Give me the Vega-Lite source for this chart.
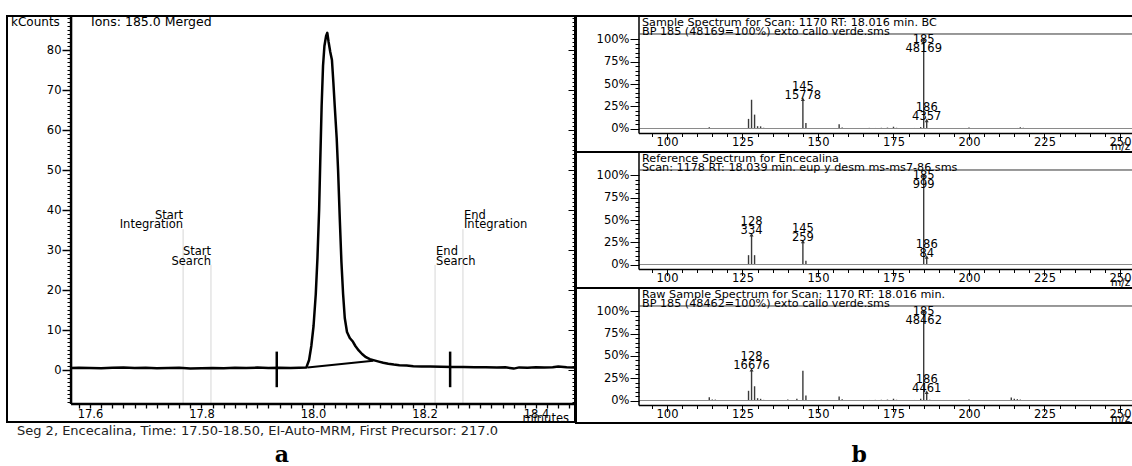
{
"$schema": "https://vega.github.io/schema/vega-lite/v6.json",
"background": "white",
"padding": {"left": 6, "top": 13, "right": 0, "bottom": 0},
"bounds": "flush",
"spacing": 1,
"config": {"font": "DejaVu Sans", "view": {"stroke": "black", "strokeWidth": 2}, "axis": {"labelFont": "DejaVu Sans", "labelFontSize": 11, "labelColor": "black", "tickColor": "black", "grid": false}},
"datasets": {
"chrom": [{"t":17.566,"v":0.5},{"t":17.58,"v":0.55},{"t":17.6,"v":0.5},{"t":17.62,"v":0.45},{"t":17.64,"v":0.55},{"t":17.66,"v":0.6},{"t":17.68,"v":0.5},{"t":17.7,"v":0.55},{"t":17.72,"v":0.45},{"t":17.74,"v":0.5},{"t":17.76,"v":0.55},{"t":17.78,"v":0.4},{"t":17.8,"v":0.45},{"t":17.82,"v":0.5},{"t":17.84,"v":0.45},{"t":17.86,"v":0.55},{"t":17.88,"v":0.5},{"t":17.9,"v":0.6},{"t":17.92,"v":0.5},{"t":17.94,"v":0.55},{"t":17.96,"v":0.5},{"t":17.975,"v":0.55},{"t":17.988,"v":0.6},{"t":17.993,"v":2.5},{"t":17.997,"v":6},{"t":18.001,"v":11},{"t":18.005,"v":19},{"t":18.008,"v":28},{"t":18.011,"v":40},{"t":18.013,"v":52},{"t":18.0155,"v":66},{"t":18.018,"v":76},{"t":18.0205,"v":81},{"t":18.0235,"v":83.5},{"t":18.0257,"v":84.3},{"t":18.028,"v":82},{"t":18.031,"v":79.5},{"t":18.034,"v":77.5},{"t":18.0365,"v":72},{"t":18.039,"v":66},{"t":18.0425,"v":58},{"t":18.045,"v":50},{"t":18.048,"v":38},{"t":18.051,"v":27},{"t":18.054,"v":19},{"t":18.057,"v":13},{"t":18.061,"v":9.5},{"t":18.066,"v":8},{"t":18.071,"v":7.2},{"t":18.076,"v":6},{"t":18.082,"v":4.9},{"t":18.088,"v":4},{"t":18.095,"v":3.2},{"t":18.102,"v":2.7},{"t":18.11,"v":2.4},{"t":18.118,"v":2.1},{"t":18.126,"v":1.8},{"t":18.135,"v":1.55},{"t":18.145,"v":1.35},{"t":18.155,"v":1.2},{"t":18.168,"v":1.1},{"t":18.18,"v":0.95},{"t":18.195,"v":0.9},{"t":18.21,"v":0.85},{"t":18.23,"v":0.8},{"t":18.25,"v":0.75},{"t":18.27,"v":0.75},{"t":18.29,"v":0.7},{"t":18.31,"v":0.7},{"t":18.33,"v":0.65},{"t":18.345,"v":0.7},{"t":18.36,"v":0.35},{"t":18.37,"v":0.65},{"t":18.385,"v":0.55},{"t":18.4,"v":0.7},{"t":18.415,"v":0.6},{"t":18.43,"v":0.7},{"t":18.44,"v":0.9},{"t":18.455,"v":0.7},{"t":18.47,"v":0.6}],
"events": [{"event":"Start Integration","t":17.767},{"event":"Start Search","t":17.817},{"event":"End Search","t":18.219},{"event":"End Integration","t":18.269}],
"p1": [{"mz":95,"pct":0.3},{"mz":97,"pct":0.4},{"mz":100,"pct":0.3},{"mz":102,"pct":0.5},{"mz":104,"pct":0.4},{"mz":106,"pct":0.3},{"mz":108,"pct":0.4},{"mz":110,"pct":0.3},{"mz":112,"pct":0.5},{"mz":114,"pct":1.3},{"mz":115,"pct":0.7},{"mz":117,"pct":0.4},{"mz":119,"pct":0.5},{"mz":121,"pct":0.4},{"mz":123,"pct":0.3},{"mz":125,"pct":0.4},{"mz":127,"pct":10.8},{"mz":128,"pct":32.3},{"mz":129,"pct":15.6},{"mz":130,"pct":2.6},{"mz":131,"pct":2.4},{"mz":132,"pct":0.8},{"mz":133,"pct":0.5},{"mz":135,"pct":0.5},{"mz":137,"pct":0.4},{"mz":139,"pct":0.6},{"mz":141,"pct":0.5},{"mz":143,"pct":0.7},{"mz":145,"pct":32.8},{"mz":146,"pct":6.3},{"mz":147,"pct":0.7},{"mz":149,"pct":0.5},{"mz":151,"pct":0.4},{"mz":153,"pct":0.5},{"mz":155,"pct":0.6},{"mz":157,"pct":4.8},{"mz":158,"pct":1.1},{"mz":159,"pct":0.5},{"mz":161,"pct":0.4},{"mz":163,"pct":0.6},{"mz":165,"pct":0.5},{"mz":167,"pct":0.7},{"mz":169,"pct":0.6},{"mz":171,"pct":0.8},{"mz":173,"pct":1.0},{"mz":175,"pct":2.0},{"mz":176,"pct":0.8},{"mz":178,"pct":0.5},{"mz":180,"pct":0.4},{"mz":182,"pct":0.6},{"mz":184,"pct":1.6},{"mz":185,"pct":100},{"mz":186,"pct":9.0},{"mz":187,"pct":0.7},{"mz":189,"pct":0.4},{"mz":191,"pct":0.3},{"mz":193,"pct":0.4},{"mz":195,"pct":0.3},{"mz":197,"pct":0.4},{"mz":199,"pct":0.5},{"mz":200,"pct":1.1},{"mz":201,"pct":0.6},{"mz":203,"pct":0.4},{"mz":205,"pct":0.3},{"mz":207,"pct":0.4},{"mz":209,"pct":0.3},{"mz":211,"pct":0.4},{"mz":213,"pct":0.5},{"mz":215,"pct":0.7},{"mz":216,"pct":0.6},{"mz":217,"pct":1.4},{"mz":218,"pct":0.8},{"mz":219,"pct":0.5},{"mz":221,"pct":0.4},{"mz":224,"pct":0.3},{"mz":227,"pct":0.4},{"mz":230,"pct":0.3},{"mz":233,"pct":0.3},{"mz":236,"pct":0.4},{"mz":239,"pct":0.3},{"mz":242,"pct":0.3},{"mz":245,"pct":0.4},{"mz":248,"pct":0.3},{"mz":251,"pct":0.3}],
"l1": [{"mz":145,"pct":32.8,"count":15778},{"mz":185,"pct":100,"count":48169},{"mz":186,"pct":9.0,"count":4357}],
"p2": [{"mz":127,"pct":10.5},{"mz":128,"pct":33.4},{"mz":129,"pct":10.5},{"mz":145,"pct":25.9},{"mz":146,"pct":4.2},{"mz":185,"pct":100},{"mz":186,"pct":8.4}],
"l2": [{"mz":128,"pct":33.4,"count":334},{"mz":145,"pct":25.9,"count":259},{"mz":185,"pct":100,"count":999},{"mz":186,"pct":8.4,"count":84}],
"p3": [{"mz":95,"pct":0.4},{"mz":98,"pct":0.3},{"mz":101,"pct":0.4},{"mz":104,"pct":0.5},{"mz":107,"pct":0.3},{"mz":110,"pct":0.4},{"mz":112,"pct":0.5},{"mz":114,"pct":3.7},{"mz":115,"pct":1.0},{"mz":116,"pct":1.0},{"mz":118,"pct":0.5},{"mz":120,"pct":0.4},{"mz":122,"pct":0.3},{"mz":124,"pct":0.4},{"mz":127,"pct":10.9},{"mz":128,"pct":34.4},{"mz":129,"pct":16.0},{"mz":130,"pct":2.6},{"mz":131,"pct":1.9},{"mz":132,"pct":0.7},{"mz":134,"pct":0.5},{"mz":136,"pct":0.4},{"mz":138,"pct":0.5},{"mz":140,"pct":1.0},{"mz":141,"pct":0.6},{"mz":143,"pct":2.0},{"mz":145,"pct":33.3},{"mz":146,"pct":5.6},{"mz":147,"pct":0.7},{"mz":149,"pct":0.5},{"mz":151,"pct":0.4},{"mz":153,"pct":0.5},{"mz":155,"pct":0.6},{"mz":157,"pct":4.5},{"mz":158,"pct":1.5},{"mz":159,"pct":0.6},{"mz":161,"pct":0.5},{"mz":163,"pct":0.6},{"mz":165,"pct":0.5},{"mz":167,"pct":0.6},{"mz":169,"pct":0.7},{"mz":171,"pct":0.8},{"mz":173,"pct":1.0},{"mz":175,"pct":2.0},{"mz":176,"pct":0.8},{"mz":178,"pct":0.5},{"mz":180,"pct":0.4},{"mz":182,"pct":0.6},{"mz":184,"pct":2.0},{"mz":185,"pct":100},{"mz":186,"pct":9.2},{"mz":187,"pct":0.8},{"mz":189,"pct":0.4},{"mz":191,"pct":0.4},{"mz":193,"pct":0.5},{"mz":195,"pct":0.3},{"mz":197,"pct":0.4},{"mz":199,"pct":0.5},{"mz":200,"pct":1.0},{"mz":201,"pct":0.6},{"mz":203,"pct":0.4},{"mz":205,"pct":0.4},{"mz":207,"pct":0.3},{"mz":209,"pct":0.5},{"mz":211,"pct":0.4},{"mz":213,"pct":0.6},{"mz":214,"pct":3.4},{"mz":215,"pct":1.9},{"mz":216,"pct":1.5},{"mz":217,"pct":1.0},{"mz":219,"pct":0.5},{"mz":221,"pct":0.4},{"mz":224,"pct":0.3},{"mz":227,"pct":0.4},{"mz":230,"pct":0.3},{"mz":233,"pct":0.4},{"mz":236,"pct":0.3},{"mz":239,"pct":0.3},{"mz":242,"pct":0.4},{"mz":245,"pct":0.3},{"mz":248,"pct":0.3},{"mz":251,"pct":0.4}],
"l3": [{"mz":128,"pct":34.4,"count":16676},{"mz":185,"pct":100,"count":48462},{"mz":186,"pct":9.2,"count":4461}],
"one": [{}]
},
"hconcat": [
{
"width": 568, "height": 406,
"resolve": {"axis": {"x": "independent", "y": "independent"}},
"layer": [
{"data": {"name": "events"}, "transform": [{"filter": "indexof(datum.event, 'Integration') >= 0"}], "mark": {"type": "rule", "color": "#d6d6d6", "strokeWidth": 1}, "encoding": {"x": {"field": "t", "type": "quantitative", "scale": {"domain": [17.4511, 18.47], "nice": false, "zero": false}, "axis": null}, "y": {"datum": -8.5, "scale": {"domain": [-13, 88.5], "nice": false, "zero": false}, "axis": null}, "y2": {"datum": 35.2}}},
{"data": {"name": "events"}, "transform": [{"filter": "indexof(datum.event, 'Search') >= 0"}], "mark": {"type": "rule", "color": "#d6d6d6", "strokeWidth": 1}, "encoding": {"x": {"field": "t", "type": "quantitative", "axis": null}, "y": {"datum": -8.5, "axis": null}, "y2": {"datum": 26.3}}},
{"data": {"name": "chrom"}, "mark": {"type": "line", "color": "black", "strokeWidth": 2.5, "strokeJoin": "round"},
 "encoding": {
  "x": {"field": "t", "type": "quantitative", "axis": {"orient": "bottom", "offset": -18, "values": [17.58,17.6,17.62,17.64,17.66,17.68,17.7,17.72,17.74,17.76,17.78,17.8,17.82,17.84,17.86,17.88,17.9,17.92,17.94,17.96,17.98,18,18.02,18.04,18.06,18.08,18.1,18.12,18.14,18.16,18.18,18.2,18.22,18.24,18.26,18.28,18.3,18.32,18.34,18.36,18.38,18.4,18.42,18.44,18.46], "labelExpr": "abs(datum.value*5 - round(datum.value*5)) < 0.001 ? format(datum.value, '.1f') : ''", "labelFontSize": {"condition": {"test": "abs(datum.value*5 - round(datum.value*5)) < 0.001", "value": 11.5}, "value": 0}, "tickSize": 4, "tickWidth": 1.3, "labelPadding": 0, "domain": false, "title": null, "labelOverlap": false, "labelFlush": false, "labelBound": false}},
  "y": {"field": "v", "type": "quantitative", "axis": {"orient": "left", "offset": -64, "values": [-8,-7,-6,-5,-4,-3,-2,-1,0,1,2,3,4,5,6,7,8,9,10,11,12,13,14,15,16,17,18,19,20,21,22,23,24,25,26,27,28,29,30,31,32,33,34,35,36,37,38,39,40,41,42,43,44,45,46,47,48,49,50,51,52,53,54,55,56,57,58,59,60,61,62,63,64,65,66,67,68,69,70,71,72,73,74,75,76,77,78,79,80,81,82,83,84,85,86,87,88], "labelExpr": "datum.value % 10 === 0 ? '' + datum.value : ''", "labelFontSize": {"condition": {"test": "datum.value % 10 === 0", "value": 11.5}, "value": 0}, "tickSize": {"condition": {"test": "datum.value % 10 === 0", "value": 9}, "value": 4}, "tickWidth": {"condition": {"test": "datum.value % 10 === 0", "value": 1.5}, "value": 1}, "labelPadding": 1, "domain": false, "title": null, "labelOverlap": false, "labelFlush": false, "labelBound": false}}
 }},
{"data": {"values": [{"t": 17.99, "v": 0.6}, {"t": 18.108, "v": 2.3}]}, "mark": {"type": "line", "color": "black", "strokeWidth": 2},
 "encoding": {"x": {"field": "t", "type": "quantitative", "axis": null},
  "y": {"field": "v", "type": "quantitative", "axis": {"orient": "right", "values": [-8,-7,-6,-5,-4,-3,-2,-1,0,1,2,3,4,5,6,7,8,9,10,11,12,13,14,15,16,17,18,19,20,21,22,23,24,25,26,27,28,29,30,31,32,33,34,35,36,37,38,39,40,41,42,43,44,45,46,47,48,49,50,51,52,53,54,55,56,57,58,59,60,61,62,63,64,65,66,67,68,69,70,71,72,73,74,75,76,77,78,79,80,81,82,83,84,85,86,87,88], "labels": false, "tickSize": {"condition": {"test": "datum.value % 10 === 0", "value": -7}, "value": -3}, "domain": false, "title": null}}}},
{"data": {"values": [{"t": 17.935}, {"t": 18.246}]}, "mark": {"type": "rule", "color": "black", "strokeWidth": 2.5}, "encoding": {"x": {"field": "t", "type": "quantitative", "axis": null}, "y": {"datum": -4.3, "axis": null}, "y2": {"datum": 4.6}}},
{"data": {"name": "one"}, "mark": {"type": "rule", "color": "black", "strokeWidth": 2.5}, "encoding": {"x": {"datum": 17.566, "axis": null}, "y": {"datum": -8.5, "axis": null}, "y2": {"datum": 88.5}}},
{"data": {"name": "one"}, "mark": {"type": "rule", "color": "black", "strokeWidth": 2.5}, "encoding": {"x": {"datum": 17.566, "axis": null}, "x2": {"datum": 18.47}, "y": {"datum": -8.5, "axis": null}}},
{"data": {"name": "events"}, "transform": [{"filter": "datum.event === 'Start Integration'"}, {"calculate": "split(datum.event, ' ')", "as": "lines"}], "mark": {"type": "text", "align": "right", "baseline": "top", "fontSize": 11.5, "lineHeight": 9.5, "color": "black"}, "encoding": {"x": {"field": "t", "type": "quantitative", "axis": null}, "y": {"datum": 40.1, "axis": null}, "text": {"field": "lines", "type": "nominal"}}},
{"data": {"name": "events"}, "transform": [{"filter": "datum.event === 'Start Search'"}, {"calculate": "split(datum.event, ' ')", "as": "lines"}], "mark": {"type": "text", "align": "right", "baseline": "top", "fontSize": 11.5, "lineHeight": 9.5, "color": "black"}, "encoding": {"x": {"field": "t", "type": "quantitative", "axis": null}, "y": {"datum": 30.9, "axis": null}, "text": {"field": "lines", "type": "nominal"}}},
{"data": {"name": "events"}, "transform": [{"filter": "datum.event === 'End Search'"}, {"calculate": "split(datum.event, ' ')", "as": "lines"}], "mark": {"type": "text", "align": "left", "dx": 1, "baseline": "top", "fontSize": 11.5, "lineHeight": 9.5, "color": "black"}, "encoding": {"x": {"field": "t", "type": "quantitative", "axis": null}, "y": {"datum": 30.9, "axis": null}, "text": {"field": "lines", "type": "nominal"}}},
{"data": {"name": "events"}, "transform": [{"filter": "datum.event === 'End Integration'"}, {"calculate": "split(datum.event, ' ')", "as": "lines"}], "mark": {"type": "text", "align": "left", "dx": 1, "baseline": "top", "fontSize": 11.5, "lineHeight": 9.5, "color": "black"}, "encoding": {"x": {"field": "t", "type": "quantitative", "axis": null}, "y": {"datum": 40.1, "axis": null}, "text": {"field": "lines", "type": "nominal"}}},
{"data": {"name": "one"}, "mark": {"type": "text", "align": "left", "baseline": "middle", "fontSize": 12, "color": "black"}, "encoding": {"x": {"datum": 17.4583, "axis": null}, "y": {"datum": 87, "axis": null}, "text": {"value": "kCounts"}}},
{"data": {"name": "one"}, "mark": {"type": "text", "align": "left", "baseline": "middle", "fontSize": 12.5, "color": "black"}, "encoding": {"x": {"datum": 17.6018, "axis": null}, "y": {"datum": 87, "axis": null}, "text": {"value": "Ions: 185.0 Merged"}}},
{"data": {"name": "one"}, "mark": {"type": "text", "align": "right", "baseline": "middle", "fontSize": 11.5, "color": "black"}, "encoding": {"x": {"datum": 18.4592, "axis": null}, "y": {"datum": -12.25, "axis": null}, "text": {"value": "minutes"}}},
{"data": {"name": "one"}, "mark": {"type": "text", "align": "left", "baseline": "middle", "fontSize": 13, "color": "#222"}, "encoding": {"x": {"datum": 17.469, "axis": null}, "y": {"datum": -15.25, "axis": null}, "text": {"value": "Seg 2, Encecalina, Time: 17.50-18.50, EI-Auto-MRM, First Precursor:  217.0"}}},
{"data": {"name": "one"}, "mark": {"type": "text", "align": "center", "baseline": "alphabetic", "fontSize": 22, "font": "DejaVu Serif", "fontWeight": "bold", "color": "black"}, "encoding": {"x": {"datum": 17.944, "axis": null}, "y": {"datum": -22.875, "axis": null}, "text": {"value": "a"}}}
]
},
{
"vconcat": [
{
"width": 560, "height": 136,
"resolve": {"axis": {"x": "independent", "y": "independent"}},
"layer": [
{"data": {"name": "p1"}, "mark": {"type": "rule", "color": "#3a3a3a", "strokeWidth": 1.4},
 "encoding": {
  "x": {"field": "mz", "type": "quantitative", "scale": {"domain": [69.87, 255.3], "nice": false, "zero": false}, "axis": {"orient": "bottom", "offset": -18.5, "values": [95,100,105,110,115,120,125,130,135,140,145,150,155,160,165,170,175,180,185,190,195,200,205,210,215,220,225,230,235,240,245,250,255], "labelExpr": "datum.value % 25 === 0 ? '' + datum.value : ''", "labelFontSize": {"condition": {"test": "datum.value % 25 === 0", "value": 11.5}, "value": 0}, "tickSize": {"condition": {"test": "datum.value % 25 === 0", "value": 6}, "value": 3}, "labelPadding": -3, "domain": false, "title": null, "labelOverlap": false, "labelFlush": false, "labelBound": false}},
  "y": {"field": "pct", "type": "quantitative", "scale": {"domain": [-26.4, 126.4], "nice": false, "zero": false}, "axis": {"orient": "left", "offset": -63, "values": [0,5,10,15,20,25,30,35,40,45,50,55,60,65,70,75,80,85,90,95,100], "labelExpr": "datum.value % 25 === 0 ? datum.value + '%' : ''", "labelFontSize": {"condition": {"test": "datum.value % 25 === 0", "value": 11.5}, "value": 0}, "tickSize": {"condition": {"test": "datum.value % 25 === 0", "value": 9}, "value": 4}, "labelPadding": 1, "domain": false, "title": null, "labelOverlap": false, "labelFlush": false, "labelBound": false}},
  "y2": {"datum": 0}
 }},
{"data": {"name": "one"}, "mark": {"type": "rule", "color": "#8a8a8a", "strokeWidth": 1}, "encoding": {"x": {"datum": 90.73, "axis": null}, "x2": {"datum": 255.3}, "y": {"datum": 0, "axis": null}}},
{"data": {"name": "one"}, "mark": {"type": "rule", "color": "black", "strokeWidth": 1.5}, "encoding": {"x": {"datum": 90.73, "axis": null}, "x2": {"datum": 255.3}, "y": {"datum": -5.62, "axis": null}}},
{"data": {"name": "one"}, "mark": {"type": "rule", "color": "black", "strokeWidth": 1.5}, "encoding": {"x": {"datum": 90.73, "axis": null}, "y": {"datum": -5.62, "axis": null}, "y2": {"datum": 126.4}}},
{"data": {"name": "one"}, "mark": {"type": "rule", "color": "#333", "strokeWidth": 1}, "encoding": {"x": {"datum": 90.73, "axis": null}, "x2": {"datum": 255.3}, "y": {"datum": 106.18, "axis": null}}},
{"data": {"name": "l1"}, "mark": {"type": "point", "shape": "triangle-up", "filled": true, "size": 16, "color": "#333", "opacity": 1}, "encoding": {"x": {"field": "mz", "type": "quantitative", "axis": null}, "y": {"field": "pct", "type": "quantitative", "axis": null}}},
{"data": {"name": "l1"}, "transform": [{"filter": "datum.pct < 100"}, {"calculate": "[toString(datum.mz), toString(datum.count)]", "as": "lines"}], "mark": {"type": "text", "align": "center", "baseline": "top", "dy": -18.5, "fontSize": 11.5, "lineHeight": 9, "color": "black"}, "encoding": {"x": {"field": "mz", "type": "quantitative", "axis": null}, "y": {"field": "pct", "type": "quantitative", "axis": null}, "text": {"field": "lines", "type": "nominal"}}},
{"data": {"name": "l1"}, "transform": [{"filter": "datum.pct >= 100"}, {"calculate": "[toString(datum.mz), toString(datum.count)]", "as": "lines"}], "mark": {"type": "text", "align": "center", "baseline": "top", "dy": -5, "fontSize": 11.5, "lineHeight": 9, "color": "black"}, "encoding": {"x": {"field": "mz", "type": "quantitative", "axis": null}, "y": {"field": "pct", "type": "quantitative", "axis": null}, "text": {"field": "lines", "type": "nominal"}}},
{"data": {"name": "one"}, "mark": {"type": "text", "align": "left", "baseline": "top", "fontSize": 11.2, "lineHeight": 9.3, "color": "black"}, "encoding": {"x": {"datum": 91.72, "axis": null}, "y": {"datum": 125.8, "axis": null}, "text": {"value": ["Sample Spectrum for Scan: 1170 RT: 18.016 min. BC", "BP 185 (48169=100%) exto callo verde.sms"]}}},
{"data": {"name": "one"}, "mark": {"type": "text", "align": "left", "baseline": "middle", "fontSize": 10.5, "color": "black"}, "encoding": {"x": {"datum": 247.0, "axis": null}, "y": {"datum": -20.4, "axis": null}, "text": {"value": "m/z"}}}
]
},
{
"width": 560, "height": 136,
"resolve": {"axis": {"x": "independent", "y": "independent"}},
"layer": [
{"data": {"name": "p2"}, "mark": {"type": "rule", "color": "#3a3a3a", "strokeWidth": 1.4},
 "encoding": {
  "x": {"field": "mz", "type": "quantitative", "scale": {"domain": [69.87, 255.3], "nice": false, "zero": false}, "axis": {"orient": "bottom", "offset": -18.5, "values": [95,100,105,110,115,120,125,130,135,140,145,150,155,160,165,170,175,180,185,190,195,200,205,210,215,220,225,230,235,240,245,250,255], "labelExpr": "datum.value % 25 === 0 ? '' + datum.value : ''", "labelFontSize": {"condition": {"test": "datum.value % 25 === 0", "value": 11.5}, "value": 0}, "tickSize": {"condition": {"test": "datum.value % 25 === 0", "value": 6}, "value": 3}, "labelPadding": -3, "domain": false, "title": null, "labelOverlap": false, "labelFlush": false, "labelBound": false}},
  "y": {"field": "pct", "type": "quantitative", "scale": {"domain": [-26.4, 126.4], "nice": false, "zero": false}, "axis": {"orient": "left", "offset": -63, "values": [0,5,10,15,20,25,30,35,40,45,50,55,60,65,70,75,80,85,90,95,100], "labelExpr": "datum.value % 25 === 0 ? datum.value + '%' : ''", "labelFontSize": {"condition": {"test": "datum.value % 25 === 0", "value": 11.5}, "value": 0}, "tickSize": {"condition": {"test": "datum.value % 25 === 0", "value": 9}, "value": 4}, "labelPadding": 1, "domain": false, "title": null, "labelOverlap": false, "labelFlush": false, "labelBound": false}},
  "y2": {"datum": 0}
 }},
{"data": {"name": "one"}, "mark": {"type": "rule", "color": "#8a8a8a", "strokeWidth": 1}, "encoding": {"x": {"datum": 90.73, "axis": null}, "x2": {"datum": 255.3}, "y": {"datum": 0, "axis": null}}},
{"data": {"name": "one"}, "mark": {"type": "rule", "color": "black", "strokeWidth": 1.5}, "encoding": {"x": {"datum": 90.73, "axis": null}, "x2": {"datum": 255.3}, "y": {"datum": -5.62, "axis": null}}},
{"data": {"name": "one"}, "mark": {"type": "rule", "color": "black", "strokeWidth": 1.5}, "encoding": {"x": {"datum": 90.73, "axis": null}, "y": {"datum": -5.62, "axis": null}, "y2": {"datum": 126.4}}},
{"data": {"name": "one"}, "mark": {"type": "rule", "color": "#333", "strokeWidth": 1}, "encoding": {"x": {"datum": 90.73, "axis": null}, "x2": {"datum": 255.3}, "y": {"datum": 106.18, "axis": null}}},
{"data": {"name": "l2"}, "mark": {"type": "point", "shape": "triangle-up", "filled": true, "size": 16, "color": "#333", "opacity": 1}, "encoding": {"x": {"field": "mz", "type": "quantitative", "axis": null}, "y": {"field": "pct", "type": "quantitative", "axis": null}}},
{"data": {"name": "l2"}, "transform": [{"filter": "datum.pct < 100"}, {"calculate": "[toString(datum.mz), toString(datum.count)]", "as": "lines"}], "mark": {"type": "text", "align": "center", "baseline": "top", "dy": -18.5, "fontSize": 11.5, "lineHeight": 9, "color": "black"}, "encoding": {"x": {"field": "mz", "type": "quantitative", "axis": null}, "y": {"field": "pct", "type": "quantitative", "axis": null}, "text": {"field": "lines", "type": "nominal"}}},
{"data": {"name": "l2"}, "transform": [{"filter": "datum.pct >= 100"}, {"calculate": "[toString(datum.mz), toString(datum.count)]", "as": "lines"}], "mark": {"type": "text", "align": "center", "baseline": "top", "dy": -5, "fontSize": 11.5, "lineHeight": 9, "color": "black"}, "encoding": {"x": {"field": "mz", "type": "quantitative", "axis": null}, "y": {"field": "pct", "type": "quantitative", "axis": null}, "text": {"field": "lines", "type": "nominal"}}},
{"data": {"name": "one"}, "mark": {"type": "text", "align": "left", "baseline": "top", "fontSize": 11.2, "lineHeight": 9.3, "color": "black"}, "encoding": {"x": {"datum": 91.72, "axis": null}, "y": {"datum": 125.8, "axis": null}, "text": {"value": ["Reference Spectrum for Encecalina", "Scan: 1178 RT: 18.039 min. eup y desm ms-ms7-86.sms"]}}},
{"data": {"name": "one"}, "mark": {"type": "text", "align": "left", "baseline": "middle", "fontSize": 10.5, "color": "black"}, "encoding": {"x": {"datum": 247.0, "axis": null}, "y": {"datum": -20.4, "axis": null}, "text": {"value": "m/z"}}}
]
},
{
"width": 560, "height": 135,
"resolve": {"axis": {"x": "independent", "y": "independent"}},
"layer": [
{"data": {"name": "p3"}, "mark": {"type": "rule", "color": "#3a3a3a", "strokeWidth": 1.4},
 "encoding": {
  "x": {"field": "mz", "type": "quantitative", "scale": {"domain": [69.87, 255.3], "nice": false, "zero": false}, "axis": {"orient": "bottom", "offset": -17.5, "values": [95,100,105,110,115,120,125,130,135,140,145,150,155,160,165,170,175,180,185,190,195,200,205,210,215,220,225,230,235,240,245,250,255], "labelExpr": "datum.value % 25 === 0 ? '' + datum.value : ''", "labelFontSize": {"condition": {"test": "datum.value % 25 === 0", "value": 11.5}, "value": 0}, "tickSize": {"condition": {"test": "datum.value % 25 === 0", "value": 6}, "value": 3}, "labelPadding": -3, "domain": false, "title": null, "labelOverlap": false, "labelFlush": false, "labelBound": false}},
  "y": {"field": "pct", "type": "quantitative", "scale": {"domain": [-25.28, 126.4], "nice": false, "zero": false}, "axis": {"orient": "left", "offset": -63, "values": [0,5,10,15,20,25,30,35,40,45,50,55,60,65,70,75,80,85,90,95,100], "labelExpr": "datum.value % 25 === 0 ? datum.value + '%' : ''", "labelFontSize": {"condition": {"test": "datum.value % 25 === 0", "value": 11.5}, "value": 0}, "tickSize": {"condition": {"test": "datum.value % 25 === 0", "value": 9}, "value": 4}, "labelPadding": 1, "domain": false, "title": null, "labelOverlap": false, "labelFlush": false, "labelBound": false}},
  "y2": {"datum": 0}
 }},
{"data": {"name": "one"}, "mark": {"type": "rule", "color": "#8a8a8a", "strokeWidth": 1}, "encoding": {"x": {"datum": 90.73, "axis": null}, "x2": {"datum": 255.3}, "y": {"datum": 0, "axis": null}}},
{"data": {"name": "one"}, "mark": {"type": "rule", "color": "black", "strokeWidth": 1.5}, "encoding": {"x": {"datum": 90.73, "axis": null}, "x2": {"datum": 255.3}, "y": {"datum": -5.62, "axis": null}}},
{"data": {"name": "one"}, "mark": {"type": "rule", "color": "black", "strokeWidth": 1.5}, "encoding": {"x": {"datum": 90.73, "axis": null}, "y": {"datum": -5.62, "axis": null}, "y2": {"datum": 126.4}}},
{"data": {"name": "one"}, "mark": {"type": "rule", "color": "#333", "strokeWidth": 1}, "encoding": {"x": {"datum": 90.73, "axis": null}, "x2": {"datum": 255.3}, "y": {"datum": 106.18, "axis": null}}},
{"data": {"name": "l3"}, "mark": {"type": "point", "shape": "triangle-up", "filled": true, "size": 16, "color": "#333", "opacity": 1}, "encoding": {"x": {"field": "mz", "type": "quantitative", "axis": null}, "y": {"field": "pct", "type": "quantitative", "axis": null}}},
{"data": {"name": "l3"}, "transform": [{"filter": "datum.pct < 100"}, {"calculate": "[toString(datum.mz), toString(datum.count)]", "as": "lines"}], "mark": {"type": "text", "align": "center", "baseline": "top", "dy": -18.5, "fontSize": 11.5, "lineHeight": 9, "color": "black"}, "encoding": {"x": {"field": "mz", "type": "quantitative", "axis": null}, "y": {"field": "pct", "type": "quantitative", "axis": null}, "text": {"field": "lines", "type": "nominal"}}},
{"data": {"name": "l3"}, "transform": [{"filter": "datum.pct >= 100"}, {"calculate": "[toString(datum.mz), toString(datum.count)]", "as": "lines"}], "mark": {"type": "text", "align": "center", "baseline": "top", "dy": -5, "fontSize": 11.5, "lineHeight": 9, "color": "black"}, "encoding": {"x": {"field": "mz", "type": "quantitative", "axis": null}, "y": {"field": "pct", "type": "quantitative", "axis": null}, "text": {"field": "lines", "type": "nominal"}}},
{"data": {"name": "one"}, "mark": {"type": "text", "align": "left", "baseline": "top", "fontSize": 11.2, "lineHeight": 9.3, "color": "black"}, "encoding": {"x": {"datum": 91.72, "axis": null}, "y": {"datum": 125.8, "axis": null}, "text": {"value": ["Raw Sample Spectrum for Scan: 1170 RT: 18.016 min.", "BP 185 (48462=100%) exto callo verde.sms"]}}},
{"data": {"name": "one"}, "mark": {"type": "text", "align": "left", "baseline": "middle", "fontSize": 10.5, "color": "black"}, "encoding": {"x": {"datum": 247.0, "axis": null}, "y": {"datum": -20.4, "axis": null}, "text": {"value": "m/z"}}},
{"data": {"name": "one"}, "mark": {"type": "text", "align": "center", "baseline": "alphabetic", "fontSize": 22, "font": "DejaVu Serif", "fontWeight": "bold", "color": "black"}, "encoding": {"x": {"datum": 163.6, "axis": null}, "y": {"datum": -68.54, "axis": null}, "text": {"value": "b"}}}
]
}
],
"spacing": 0,
"bounds": "flush"
}
]
}
